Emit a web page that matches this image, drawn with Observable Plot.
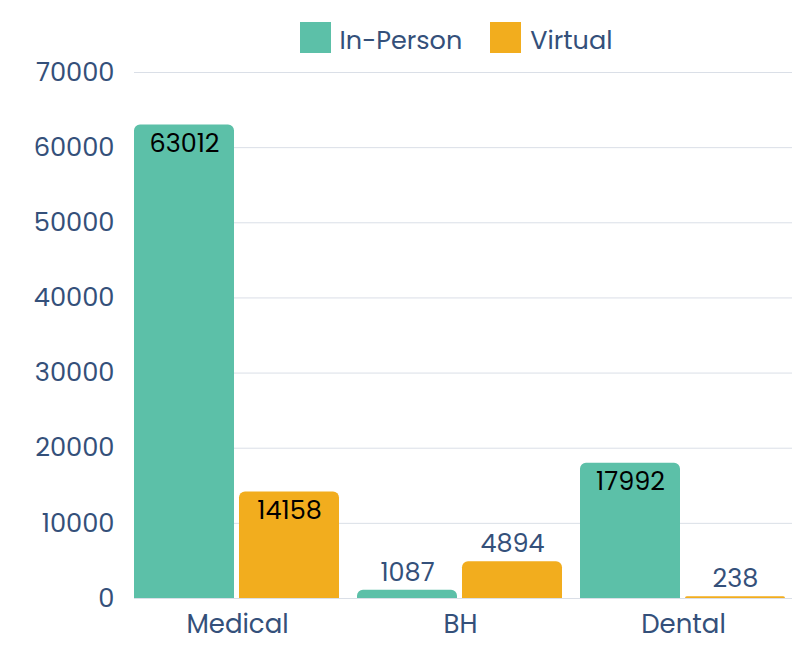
<!DOCTYPE html>
<html>
<head>
<meta charset="utf-8">
<script src="https://cdn.jsdelivr.net/npm/d3@7"></script>
<script src="https://cdn.jsdelivr.net/npm/@observablehq/plot@0.6"></script>
<style>
  html, body { margin: 0; padding: 0; background: #fff; }
  body { font-family: "Poppins", "Inter", sans-serif; width: 792px; height: 645px; overflow: hidden; }
  #legend { box-sizing: border-box; height: 40px; padding-left: 126px; width: 786px; display: flex; justify-content: center; align-items: flex-start; }
  .item { display: flex; align-items: center; margin: 22px 14px 0 14px; height: 31px; }
  .sw { width: 31px; height: 31px; margin-right: 9px; flex: none; }
  .lab { font-size: 25.5px; color: #34507a; line-height: 31px; position: relative; top: 3px; }
  svg { display: block; overflow: visible; }
</style>
</head>
<body>
<div id="legend"></div>
<div id="chart"></div>
<script>
const categories = ["Medical", "BH", "Dental"];
const series = ["In-Person", "Virtual"];
const inPerson = [63012, 1087, 17992];
const virtual = [14158, 4894, 238];
const colors = ["#5cc0a8", "#f2ad1e"];
const yTicks = [0, 10000, 20000, 30000, 40000, 50000, 60000, 70000];

const textColor = "#34507a";
const data = categories.flatMap((c, i) => [
  {category: c, series: series[0], value: inPerson[i]},
  {category: c, series: series[1], value: virtual[i]}
]);
const inside = d => d.value >= 10000;

const legend = document.getElementById("legend");
series.forEach((s, i) => {
  const it = document.createElement("div");
  it.className = "item";
  it.innerHTML = `<div class="sw" style="background:${colors[i]}"></div><span class="lab">${s}</span>`;
  legend.appendChild(it);
});

const chart = Plot.plot({
  width: 792,
  height: 605,
  marginTop: 32,
  marginBottom: 47,
  marginLeft: 133,
  marginRight: 5,
  style: {fontFamily: '"Poppins", "Inter", sans-serif', color: textColor, background: "transparent"},
  fx: {domain: categories, paddingInner: 0.0762, paddingOuter: 0, label: null},
  x: {domain: series, paddingInner: 0.047, paddingOuter: 0, axis: null},
  y: {domain: [0, 70000], axis: null},
  color: {domain: series, range: colors},
  marks: [
    Plot.ruleY(yTicks, {stroke: "#dadfe7", strokeWidth: 1, insetLeft: 0, insetRight: -17}),
    Plot.barY(data, {fx: "category", x: "series", y: "value", fill: "series", ry1: 6, rx1y1: 6, rx2y1: 6}),
    Plot.text(data.filter(inside), {fx: "category", x: "series", y: "value", text: d => String(d.value), dy: 19, fill: "#000", fontSize: 25.5}),
    Plot.text(data.filter(d => !inside(d)), {fx: "category", x: "series", y: "value", text: d => String(d.value), dy: -18, fill: textColor, fontSize: 25.5}),
    Plot.axisY({ticks: yTicks, tickSize: 0, tickPadding: 20, tickFormat: d => String(d), fontSize: 25.7, label: null, fill: textColor}),
    Plot.axisFx({anchor: "bottom", tickSize: 0, tickPadding: 16, fontSize: 26, label: null, fill: textColor})
  ]
});
document.getElementById("chart").appendChild(chart);
</script>
</body>
</html>
